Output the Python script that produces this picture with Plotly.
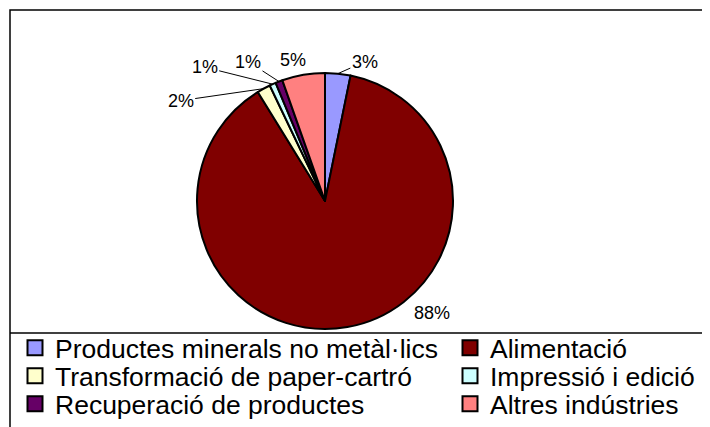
import math

import plotly.graph_objs as go

# data
categories = [
    "Productes minerals no metàl·lics",
    "Alimentació",
    "Transformació de paper-cartró",
    "Impressió i edició",
    "Recuperació de productes",
    "Altres indústries",
]
shares = [3.2, 88.0, 1.7, 0.8, 0.9, 5.4]
slice_colors = ["#9999FF", "#800000", "#FFFFCC", "#CCFFFF", "#660066", "#FF8080"]

W, H = 710, 427
PAGE_OFFSET = 8  # the page body margin shifts the figure
FONT = "Liberation Sans, Arial"

# pie placement (screen pixels)
PIE_CX, PIE_CY, PIE_R = 325, 201, 128

# where each percentage label sits, relative to its slice edge (pixels)
label_offsets = [(27, -12), (85, -14), (-83, 12), (-68, -17), (-31, -20), (-10, -15)]
label_leader = [True, False, True, True, True, False]


def px_x(x):
    return (x - PAGE_OFFSET) / W


def px_y(y):
    return 1 - (y - PAGE_OFFSET) / H


fig = go.Figure()

fig.add_trace(
    go.Pie(
        labels=categories,
        values=shares,
        sort=False,
        direction="clockwise",
        rotation=0,
        marker=dict(colors=slice_colors, line=dict(color="black", width=2)),
        textinfo="none",
        domain=dict(x=[px_x(PIE_CX - PIE_R), px_x(PIE_CX + PIE_R)],
                    y=[px_y(PIE_CY + PIE_R), px_y(PIE_CY - PIE_R)]),
        hoverinfo="label+percent",
        showlegend=False,
    ))

# percentage labels, Excel style, anchored at each slice's mid angle
total = sum(shares)
annotations = []
start = 0.0
for value, (dx, dy), leader in zip(shares, label_offsets, label_leader):
    mid = (start + value / 2) / total * 2 * math.pi
    start += value
    tip_x = PIE_CX + PIE_R * math.sin(mid)
    tip_y = PIE_CY - PIE_R * math.cos(mid)
    text = f"{round(value / total * 100)}%"
    if leader:
        annotations.append(dict(
            x=px_x(tip_x), y=px_y(tip_y), xref="paper", yref="paper",
            text=text, showarrow=True, ax=dx, ay=dy, arrowhead=0, arrowwidth=1,
            arrowcolor="black", standoff=0,
            font=dict(family=FONT, size=18, color="black"),
        ))
    else:
        annotations.append(dict(
            x=px_x(tip_x), y=px_y(tip_y), xref="paper", yref="paper",
            xanchor="center", yanchor="middle",
            text=text, showarrow=False, xshift=dx, yshift=-dy,
            font=dict(family=FONT, size=18, color="black"),
        ))

# legend: two columns, three rows, one small legend per entry
col_x = [15, 450]
row_y = [324, 352, 380]
legend_layout = {}
for i, (name, color) in enumerate(zip(categories, slice_colors)):
    key = "legend" if i == 0 else f"legend{i + 1}"
    fig.add_trace(
        go.Scatter(
            x=[None],
            y=[None],
            mode="markers",
            name=name,
            marker=dict(symbol="square", size=15, color=color, line=dict(color="black", width=2)),
            legend=key,
            hoverinfo="skip",
        ))
    legend_layout[key] = dict(
        x=px_x(col_x[i % 2]),
        xanchor="left",
        y=px_y(row_y[i // 2]),
        yanchor="top",
        itemwidth=30,
        font=dict(family=FONT, size=26.5, color="black"),
        bgcolor="rgba(0,0,0,0)",
        itemclick=False,
        itemdoubleclick=False,
    )

# outer frame and the line above the legend
fig.update_layout(shapes=[
    dict(type="rect", xref="paper", yref="paper", x0=px_x(10), x1=px_x(709), y0=-0.05, y1=px_y(10),
         line=dict(color="black", width=1.5)),
    dict(type="line", xref="paper", yref="paper", x0=px_x(10), x1=px_x(709), y0=px_y(333), y1=px_y(333),
         line=dict(color="black", width=1.5)),
])

fig.update_layout(
    width=W,
    height=H,
    margin=dict(l=0, r=0, t=0, b=0, autoexpand=False),
    paper_bgcolor="white",
    plot_bgcolor="white",
    font=dict(family=FONT, color="black"),
    xaxis=dict(visible=False),
    yaxis=dict(visible=False),
    annotations=annotations,
    **legend_layout,
)

fig.write_html("out.html")
